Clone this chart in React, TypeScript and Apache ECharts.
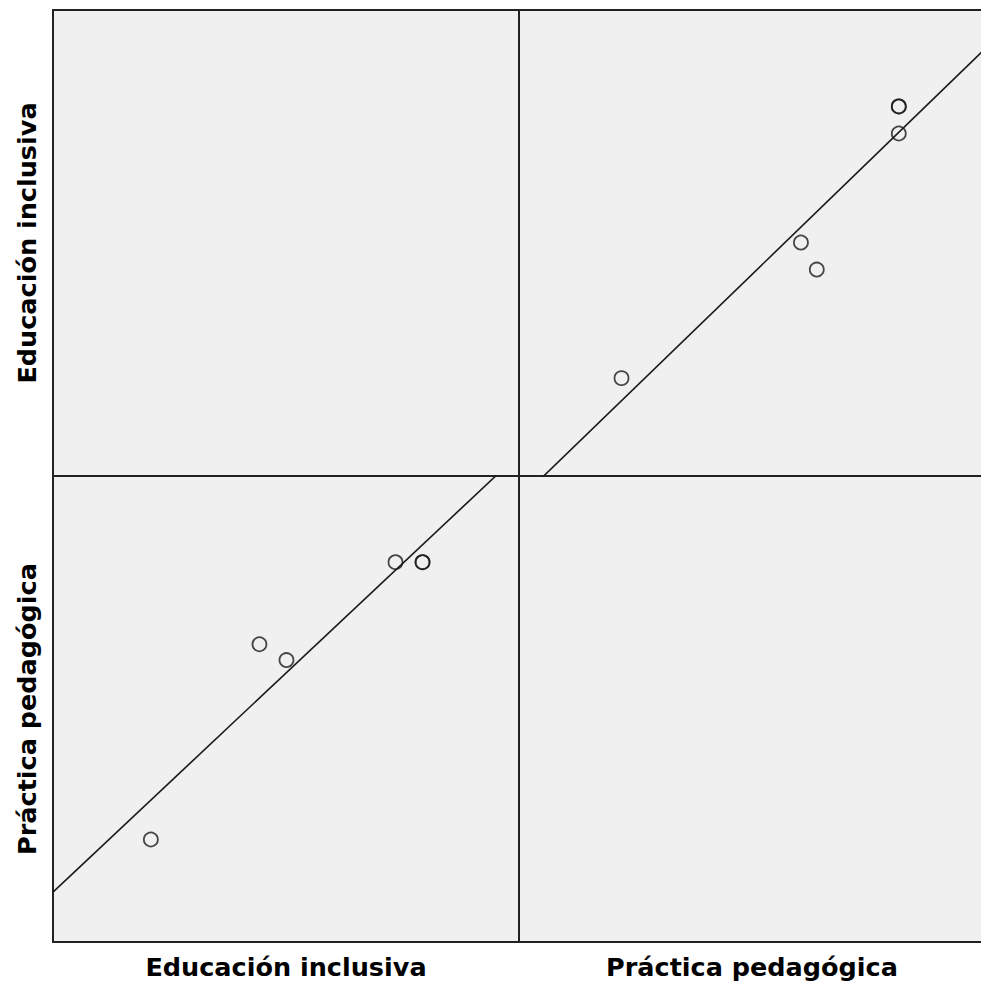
import React, { useEffect, useRef } from "react";
import * as echarts from "echarts";

const varNames = ["Educación inclusiva", "Práctica pedagógica"];
const educacion = [21.0, 44.3, 50.1, 73.5, 79.3, 79.3];
const practica = [22.0, 63.9, 60.5, 81.5, 81.5, 81.5];
const axisMin = 0;
const axisMax = 100;

function fit(xs: number[], ys: number[]) {
  const n = xs.length;
  const mx = xs.reduce((a, b) => a + b, 0) / n;
  const my = ys.reduce((a, b) => a + b, 0) / n;
  let sxy = 0, sxx = 0;
  for (let i = 0; i < n; i++) {
    sxy += (xs[i] - mx) * (ys[i] - my);
    sxx += (xs[i] - mx) * (xs[i] - mx);
  }
  const b = sxy / sxx;
  const a = my - b * mx;
  return [
    [axisMin, a + b * axisMin],
    [axisMax, a + b * axisMax],
  ];
}

export default function App() {
  const ref = useRef<HTMLDivElement>(null);
  useEffect(() => {
    if (!ref.current) return;
    const chart = echarts.init(ref.current, undefined, { renderer: "svg" });
    const L = 53, T = 10, S = 466;
    const grids = [
      { left: L, top: T },
      { left: L + S, top: T },
      { left: L, top: T + S },
      { left: L + S, top: T + S },
    ].map((g) => ({
      ...g,
      width: S,
      height: S,
      show: true,
      backgroundColor: "#f0f0f0",
      borderColor: "#222",
      borderWidth: 2,
      containLabel: false,
    }));
    const nameStyle = {
      fontFamily: "DejaVu Sans",
      fontWeight: "bold" as const,
      fontSize: 25.5,
      color: "#000",
    };
    const hidden = {
      min: axisMin,
      max: axisMax,
      type: "value" as const,
      axisLine: { show: false },
      axisTick: { show: false },
      axisLabel: { show: false },
      splitLine: { show: false },
    };
    const xAxis = [0, 1, 2, 3].map((i) => ({
      ...hidden,
      gridIndex: i,
      name: i === 2 ? varNames[0] : i === 3 ? varNames[1] : "",
      nameLocation: "middle" as const,
      nameGap: 12,
      nameTextStyle: nameStyle,
    }));
    const yAxis = [0, 1, 2, 3].map((i) => ({
      ...hidden,
      gridIndex: i,
      name: i === 0 ? varNames[0] : i === 2 ? varNames[1] : "",
      nameLocation: "middle" as const,
      nameGap: 13,
      nameRotate: 90,
      nameTextStyle: nameStyle,
    }));
    const pts = (xs: number[], ys: number[]) => xs.map((x, i) => [x, ys[i]]);
    const scatterStyle = {
      type: "scatter" as const,
      symbol: "circle",
      symbolSize: 14,
      itemStyle: { color: "rgba(0,0,0,0)", borderColor: "#1a1a1a", borderWidth: 1.8 },
      z: 3,
    };
    const lineStyle = {
      type: "line" as const,
      showSymbol: false,
      symbol: "none",
      clip: true,
      lineStyle: { color: "#1a1a1a", width: 1.6 },
      z: 2,
    };
    chart.setOption({
      animation: false,
      backgroundColor: "#fff",
      grid: grids,
      xAxis,
      yAxis,
      series: [
        { ...scatterStyle, xAxisIndex: 2, yAxisIndex: 2, data: pts(educacion, practica) },
        { ...lineStyle, xAxisIndex: 2, yAxisIndex: 2, data: fit(educacion, practica) },
        { ...scatterStyle, xAxisIndex: 1, yAxisIndex: 1, data: pts(practica, educacion) },
        { ...lineStyle, xAxisIndex: 1, yAxisIndex: 1, data: fit(practica, educacion) },
      ],
    });
    return () => chart.dispose();
  }, []);
  return (
    <div
      ref={ref}
      style={{ position: "fixed", left: 0, top: 0, width: 992, height: 990 }}
    />
  );
}
